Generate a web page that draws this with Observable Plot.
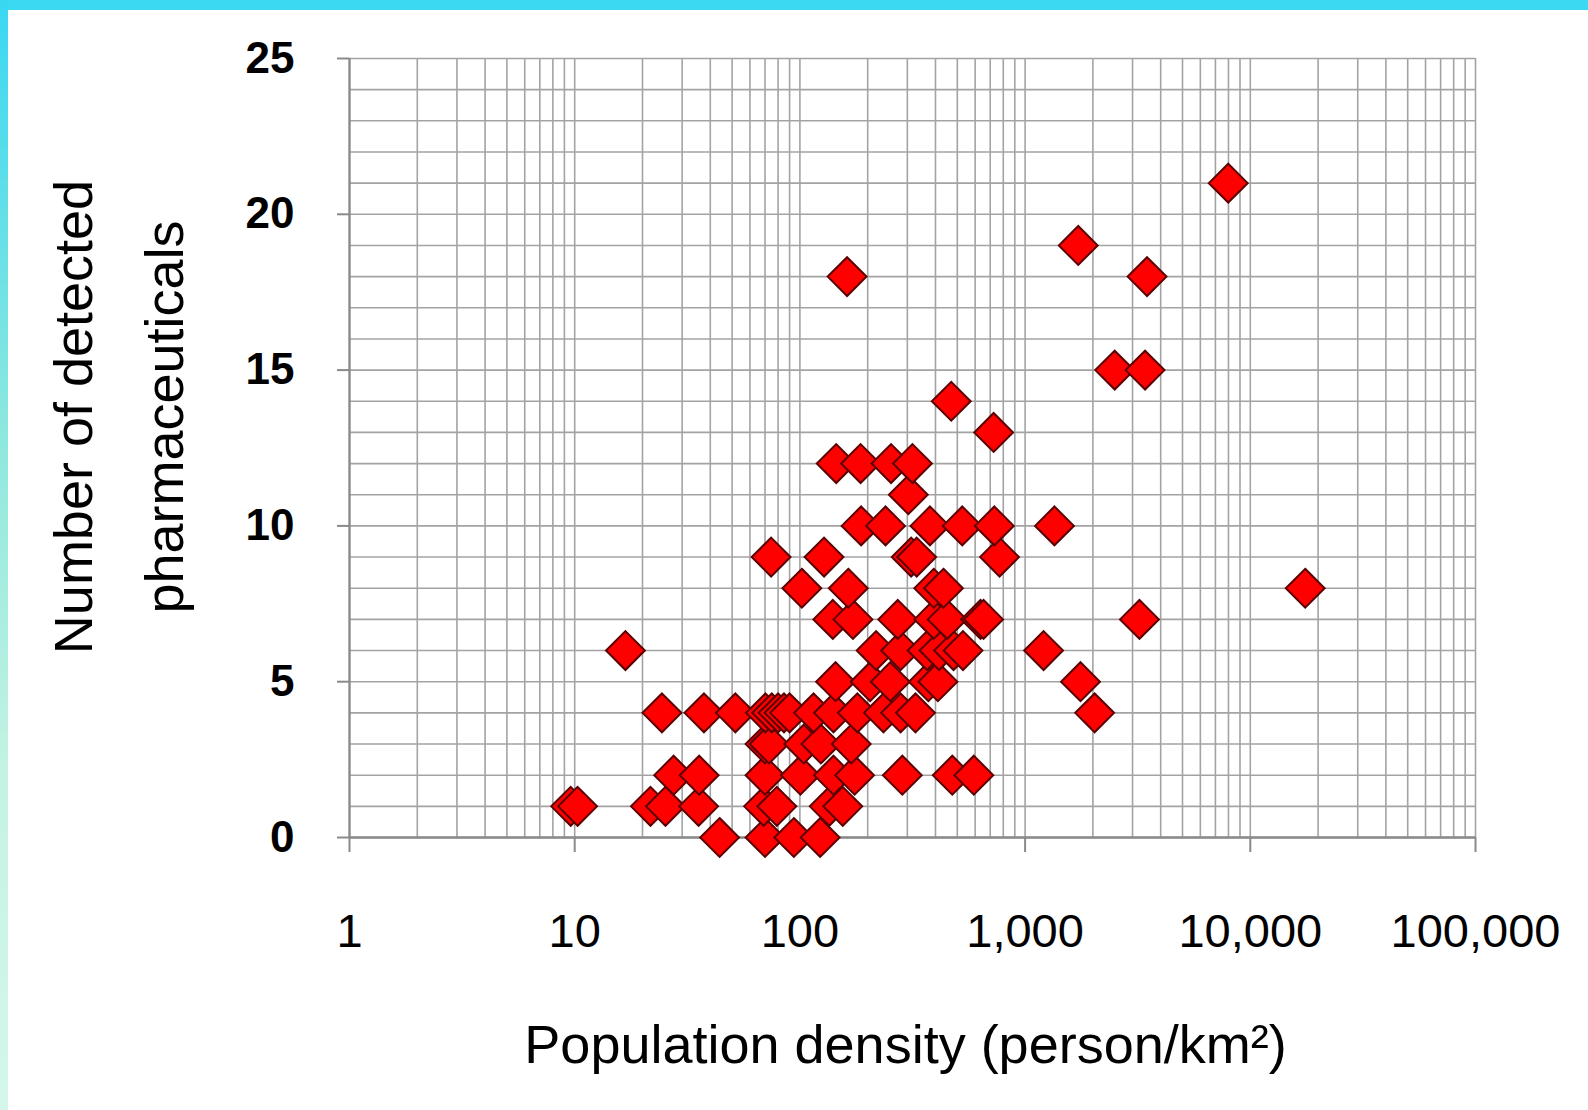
<!DOCTYPE html>
<html><head><meta charset="utf-8">
<script src="https://cdn.jsdelivr.net/npm/d3@7"></script>
<script src="https://cdn.jsdelivr.net/npm/@observablehq/plot@0.6"></script>
<style>
html,body{margin:0;padding:0;background:#fff;width:1588px;height:1110px;overflow:hidden;}
#wrap{position:relative;width:1588px;height:1110px;}
#topbar{position:absolute;left:0;top:0;width:1588px;height:10px;background:#3cd9f3;z-index:2}
#leftbar{position:absolute;left:0;top:0;width:8px;height:1110px;background:linear-gradient(#3ad7f2 0%,#8fe8de 40%,#c4f3e3 70%,#d4f7ea 100%);z-index:2}
#chart{position:absolute;left:0;top:0}
</style></head><body>
<div id="wrap"><div id="chart"></div><div id="topbar"></div><div id="leftbar"></div></div>
<script>
// Population density (person/km2) of each site
const density = [
  44, 70, 94, 123,
  9.6, 10.3, 21.7, 25.3, 35.5, 69, 79, 135, 155,
  27.5, 35.7, 70, 100.5, 141, 175, 285, 475, 592,
  70, 73, 104, 124, 169,
  24.4, 37.5, 51.7, 70.3, 75, 80, 85, 90, 115, 141, 180, 235, 280, 326, 2036,
  144, 205, 252, 372, 410, 1762,
  16.8, 218, 280, 367, 415, 481, 530, 1208,
  140, 172, 272, 393, 451, 634, 654, 3220,
  102, 164, 393, 434, 17530,
  74.5, 128, 312, 330, 770,
  187, 240, 378, 526, 730, 1350,
  303,
  145, 186, 254, 316,
  725,
  470,
  2500, 3410,
  162, 3480,
  1722,
  7980
];
// Number of detected pharmaceuticals at each site
const detected = [
  0, 0, 0, 0,
  1, 1, 1, 1, 1, 1, 1, 1, 1,
  2, 2, 2, 2, 2, 2, 2, 2, 2,
  3, 3, 3, 3, 3,
  4, 4, 4, 4, 4, 4, 4, 4, 4, 4, 4, 4, 4, 4, 4,
  5, 5, 5, 5, 5, 5,
  6, 6, 6, 6, 6, 6, 6, 6,
  7, 7, 7, 7, 7, 7, 7, 7,
  8, 8, 8, 8, 8,
  9, 9, 9, 9, 9,
  10, 10, 10, 10, 10, 10,
  11,
  12, 12, 12, 12,
  13,
  14,
  15, 15,
  18, 18,
  19,
  21
];
const xTicks = [1, 10, 100, 1000, 10000, 100000];
const yTicks = [0, 5, 10, 15, 20, 25];
const yGrid = [0,1,2,3,4,5,6,7,8,9,10,11,12,13,14,15,16,17,18,19,20,21,22,23,24,25];
const xLabel = "Population density (person/km\u00B2)";
const yLabelLines = ["Number of detected", "pharmaceuticals"];

const data = density.map((d, i) => ({density: d, count: detected[i]}));
const xGrid = [];
for (let e = 0; e < 5; e++) for (let m = 1; m <= 9; m++) xGrid.push(m * Math.pow(10, e));
xGrid.push(100000);

const gridColor = "#a3a3a3";
const chart = Plot.plot({
  width: 1588, height: 1110,
  marginLeft: 349, marginRight: 113, marginTop: 58, marginBottom: 273,
  style: {fontFamily: "'Liberation Sans', Arial, sans-serif", background: "transparent", color: "#000"},
  x: {type: "log", domain: [1, 100000]},
  y: {domain: [0, 25]},
  marks: [
    Plot.ruleX(xGrid, {stroke: gridColor, strokeWidth: 1.6}),
    Plot.ruleY(yGrid, {stroke: gridColor, strokeWidth: 1.6}),
    Plot.ruleX([1], {stroke: "#8a8a8a", strokeWidth: 2.2}),
    Plot.ruleY([0], {stroke: "#8a8a8a", strokeWidth: 2.4}),
    Plot.axisX({ticks: xTicks, tickFormat: d3.format(","), tickSize: 15, tickPadding: 61, fontSize: 47, stroke: "#8a8a8a", strokeWidth: 2, label: null}),
    Plot.axisY({ticks: yTicks, tickFormat: d3.format("d"), tickSize: 12, tickPadding: 43, fontSize: 44, fontWeight: "bold", stroke: "#8a8a8a", strokeWidth: 2, label: null}),
    Plot.dot(data, {x: "density", y: "count", symbol: "diamond2", r: 17.5, fill: "#ff0000", stroke: "#5a0000", strokeWidth: 2}),
    Plot.text([xLabel], {text: d => d, frameAnchor: "bottom", dx: -7, dy: 225, fontSize: 54, lineAnchor: "bottom", fill: "#000"}),
    Plot.text([yLabelLines[0]], {text: d => d, frameAnchor: "left", textAnchor: "middle", rotate: -90, dx: -258, dy: -31, fontSize: 54, lineAnchor: "bottom", fill: "#000"}),
    Plot.text([yLabelLines[1]], {text: d => d, frameAnchor: "left", textAnchor: "middle", rotate: -90, dx: -167, dy: -31, fontSize: 54, lineAnchor: "bottom", fill: "#000"})
  ]
});
document.getElementById("chart").appendChild(chart);
</script>
</body></html>
